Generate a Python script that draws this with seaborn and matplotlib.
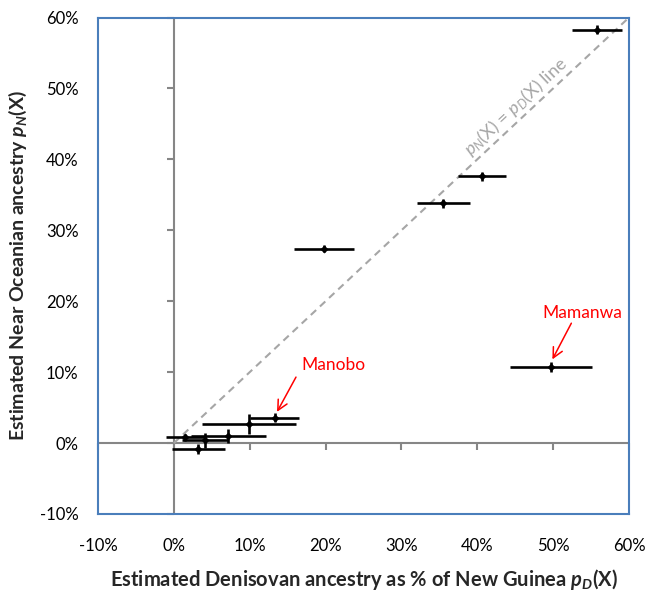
import numpy as np
import pandas as pd
import matplotlib
matplotlib.use("Agg")
import matplotlib.pyplot as plt
import seaborn as sns
from matplotlib.ticker import FuncFormatter, MultipleLocator

# ---- data (percent) ----
denisovan_pct = [55.8, 40.6, 35.5, 19.8, 49.7, 13.3, 9.9, 7.2, 4.1, 3.2, 1.5]
near_oceanian_pct = [58.3, 37.6, 33.8, 27.4, 10.7, 3.6, 2.7, 1.0, 0.4, -0.85, 0.8]
denisovan_err = [3.3, 3.2, 3.5, 3.9, 5.4, 3.2, 6.25, 5.0, 3.0, 3.5, 2.5]
near_oceanian_err = [0.6, 0.6, 0.6, 0.5, 0.7, 0.6, 1.4, 1.05, 1.05, 0.75, 0.5]
tick_values = [-10, 0, 10, 20, 30, 40, 50, 60]
annot_names = ["Mamanwa", "Manobo"]
annot_point = [(49.9, 11.8), (13.6, 4.4)]
annot_text = [(53.9, 18.4), (21.1, 11.0)]
annot_tail = [(52.4, 16.9), (16.1, 9.3)]

df = pd.DataFrame({"x": denisovan_pct, "y": near_oceanian_pct,
                   "xerr": denisovan_err, "yerr": near_oceanian_err})

sns.set_theme(style="white")
plt.rcParams["font.family"] = ["Lato", "DejaVu Sans"]
plt.rcParams["mathtext.fontset"] = "custom"
plt.rcParams["mathtext.rm"] = "Lato"
plt.rcParams["mathtext.it"] = "Lato:italic"
plt.rcParams["mathtext.bf"] = "Lato:bold"
plt.rcParams["mathtext.bfit"] = "Lato:italic:bold"

fig = plt.figure(figsize=(6.47, 5.94), dpi=100)
ax = fig.add_axes([98 / 647, 80 / 594, 531 / 647, 496.5 / 594])

ax.set_xlim(-10, 60)
ax.set_ylim(-10, 60)

frame_col = "#4A7EBB"
for s in ax.spines.values():
    s.set_color(frame_col)
    s.set_linewidth(1.5)
    s.set_visible(True)

# axis lines through zero (Excel style)
axis_col = "#868686"
ax.axvline(0, color=axis_col, lw=1.5, zorder=1)
ax.axhline(0, color=axis_col, lw=1.5, zorder=1)
ax.plot(np.zeros(len(tick_values)), tick_values, ls="none", marker=0,
        ms=5, mew=1.5, color=axis_col, zorder=1, clip_on=False)
ax.plot(tick_values, np.zeros(len(tick_values)), ls="none", marker=3,
        ms=5, mew=1.5, color=axis_col, zorder=1, clip_on=False)

# y = x reference line
ax.plot([0, 60], [0, 60], ls=(0, (3.5, 2.5)), color="#A6A6A6", lw=1.5, zorder=2)
ax.text(45.1, 47.5, r"$p_N$(X) = $p_D$(X) line", color="#A6A6A6",
        fontsize=13, rotation=43.1, ha="center", va="center",
        rotation_mode="anchor")

# error bars and points
ax.errorbar(df["x"], df["y"], xerr=df["xerr"], yerr=df["yerr"], fmt="none",
            ecolor="black", elinewidth=1.9, capsize=0, zorder=3)
sns.scatterplot(data=df, x="x", y="y", marker="D", s=14, color="black",
                edgecolor="black", ax=ax, zorder=4, legend=False)

# annotations
for name, pt, tp, tail in zip(annot_names, annot_point, annot_text, annot_tail):
    ax.text(tp[0], tp[1], name, color="#FF0000", fontsize=12.5,
            ha="center", va="center")
    ax.annotate("", xy=pt, xytext=tail,
                arrowprops=dict(arrowstyle="->,head_length=0.6,head_width=0.3",
                                color="#FF0000", lw=1.1, shrinkA=0, shrinkB=0))

ax.xaxis.set_major_locator(MultipleLocator(10))
ax.yaxis.set_major_locator(MultipleLocator(10))
fmt = FuncFormatter(lambda v, p: f"{v:.0f}%")
ax.xaxis.set_major_formatter(fmt)
ax.yaxis.set_major_formatter(fmt)
ax.tick_params(axis="both", length=0, labelsize=12, colors="black")
ax.tick_params(axis="x", pad=17)
ax.tick_params(axis="y", pad=14)

ax.set_xlabel(r"Estimated Denisovan ancestry as % of New Guinea $\mathbfit{p}_{\mathbfit{D}}$(X)",
              fontsize=14.5, fontweight="bold", labelpad=10)
ax.set_ylabel(r"Estimated Near Oceanian ancestry $\mathbfit{p}_{\mathbfit{N}}$(X)",
              fontsize=14, fontweight="bold", labelpad=8)
ax.grid(False)

fig.savefig("out.png", dpi=100)
